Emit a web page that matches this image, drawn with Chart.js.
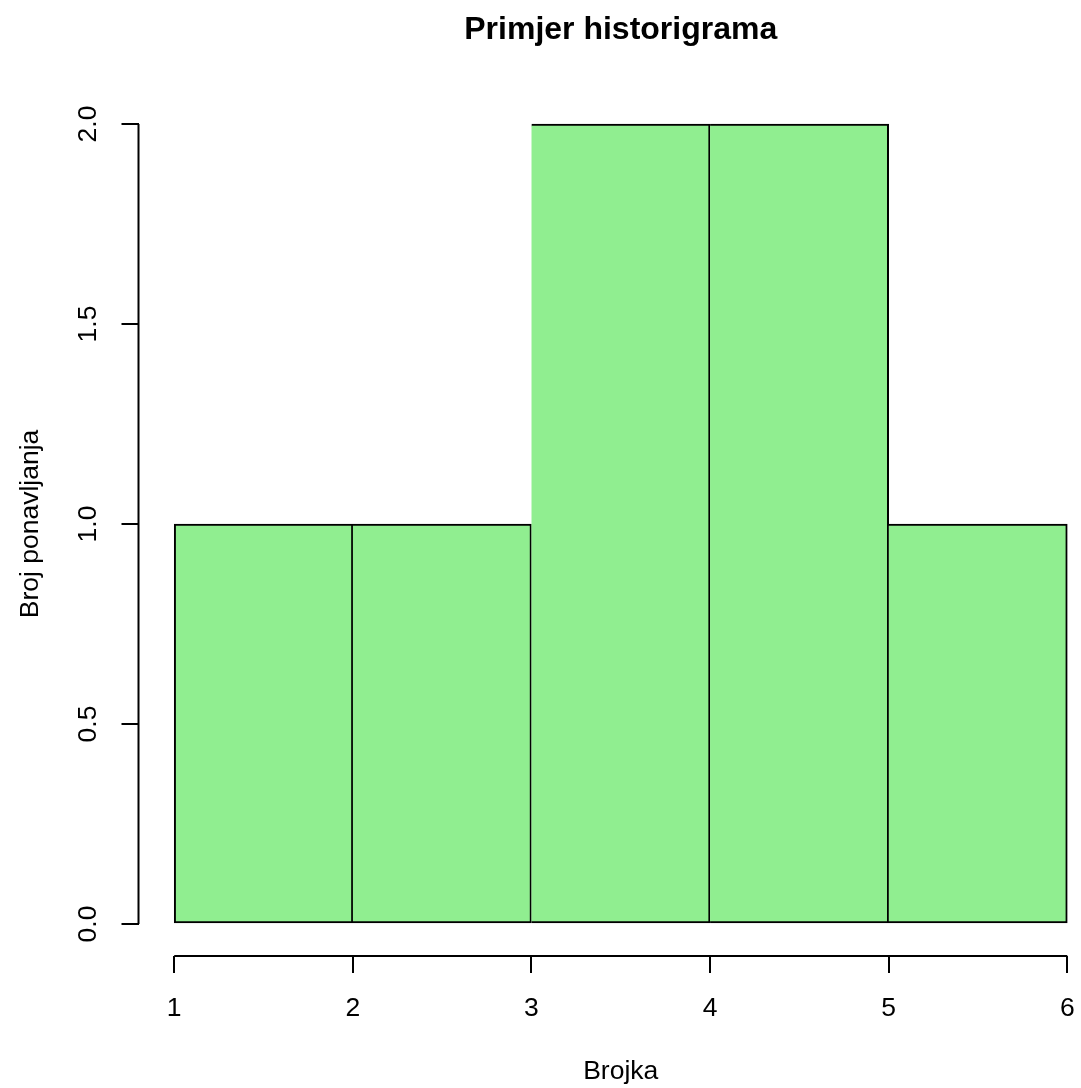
<!DOCTYPE html>
<html>
<head>
<meta charset="utf-8">
<script src="https://cdn.jsdelivr.net/npm/chart.js@4.4.1/dist/chart.umd.min.js"></script>
<style>
  html, body { margin: 0; padding: 0; background: #fff; overflow: hidden; }
  #wrap { width: 1242px; height: 1088px; }
</style>
</head>
<body>
<div id="wrap"><canvas id="histo"></canvas></div>
<script>
// podaci histograma
const sredineRazreda = [1.5, 2.5, 3.5, 4.5, 5.5];
const frekvencije = [1, 1, 2, 2, 1];
const xOznake = [1, 2, 3, 4, 5, 6];
const yOznake = [0, 0.5, 1, 1.5, 2];

const crna = "#000000";

// R crta osi samo od prve do zadnje oznake
const osiR = {
    id: "osiR",
    afterDraw(chart) {
        const { ctx, chartArea, scales } = chart;
        ctx.save();
        ctx.strokeStyle = crna;
        ctx.lineWidth = 2;
        ctx.beginPath();
        ctx.moveTo(scales.x.getPixelForValue(xOznake[0]), chartArea.bottom);
        ctx.lineTo(scales.x.getPixelForValue(xOznake[xOznake.length - 1]), chartArea.bottom);
        ctx.moveTo(chartArea.left, scales.y.getPixelForValue(yOznake[0]));
        ctx.lineTo(chartArea.left, scales.y.getPixelForValue(yOznake[yOznake.length - 1]));
        ctx.stroke();
        ctx.restore();
    }
};

Chart.defaults.font.family = "'Liberation Sans', Arial, sans-serif";
Chart.defaults.color = crna;

new Chart(document.getElementById("histo"), {
    type: "bar",
    data: {
        datasets: [{
            data: sredineRazreda.map((x, i) => ({ x, y: frekvencije[i] })),
            backgroundColor: "#90EE90",
            borderColor: crna,
            borderWidth: 2,
            borderSkipped: c => (c.dataIndex > 0 ? "left" : false),
            barPercentage: 1,
            categoryPercentage: 1
        }]
    },
    options: {
        responsive: true,
        maintainAspectRatio: false,
        animation: false,
        layout: { padding: { left: 0, right: 139, top: 0, bottom: 0 } },
        plugins: {
            legend: { display: false },
            tooltip: { enabled: false },
            title: {
                display: true,
                fullSize: false,
                text: "Primjer historigrama",
                font: { size: 32, weight: "bold" },
                color: crna,
                padding: { top: 11, bottom: 42.6 }
            }
        },
        scales: {
            x: {
                type: "linear",
                min: 0.8,
                max: 6.2,
                offset: false,
                afterBuildTicks: s => { s.ticks = xOznake.map(v => ({ value: v })); },
                afterFit: s => { s.height = 132; },
                border: { display: false },
                grid: { offset: false, drawOnChartArea: false, drawTicks: true, tickLength: 17, color: crna, lineWidth: 2 },
                ticks: { font: { size: 26.5 }, padding: 20, maxRotation: 0, callback: v => String(v) },
                title: { display: true, text: "Brojka", font: { size: 26.5 }, padding: { top: 0, bottom: 0 } }
            },
            y: {
                min: -0.08,
                max: 2.08,
                afterBuildTicks: s => { s.ticks = yOznake.map(v => ({ value: v })); },
                afterFit: s => { s.width = 138.5; },
                border: { display: false },
                grid: { drawOnChartArea: false, drawTicks: true, tickLength: 17, color: crna, lineWidth: 2 },
                ticks: { font: { size: 26.5 }, padding: 14, minRotation: 90, maxRotation: 90, crossAlign: "center", callback: v => v.toFixed(1) },
                title: { display: true, text: "Broj ponavljanja", font: { size: 26.5 }, padding: { top: 15, bottom: 0 } }
            }
        }
    },
    plugins: [osiR]
});
</script>
</body>
</html>
